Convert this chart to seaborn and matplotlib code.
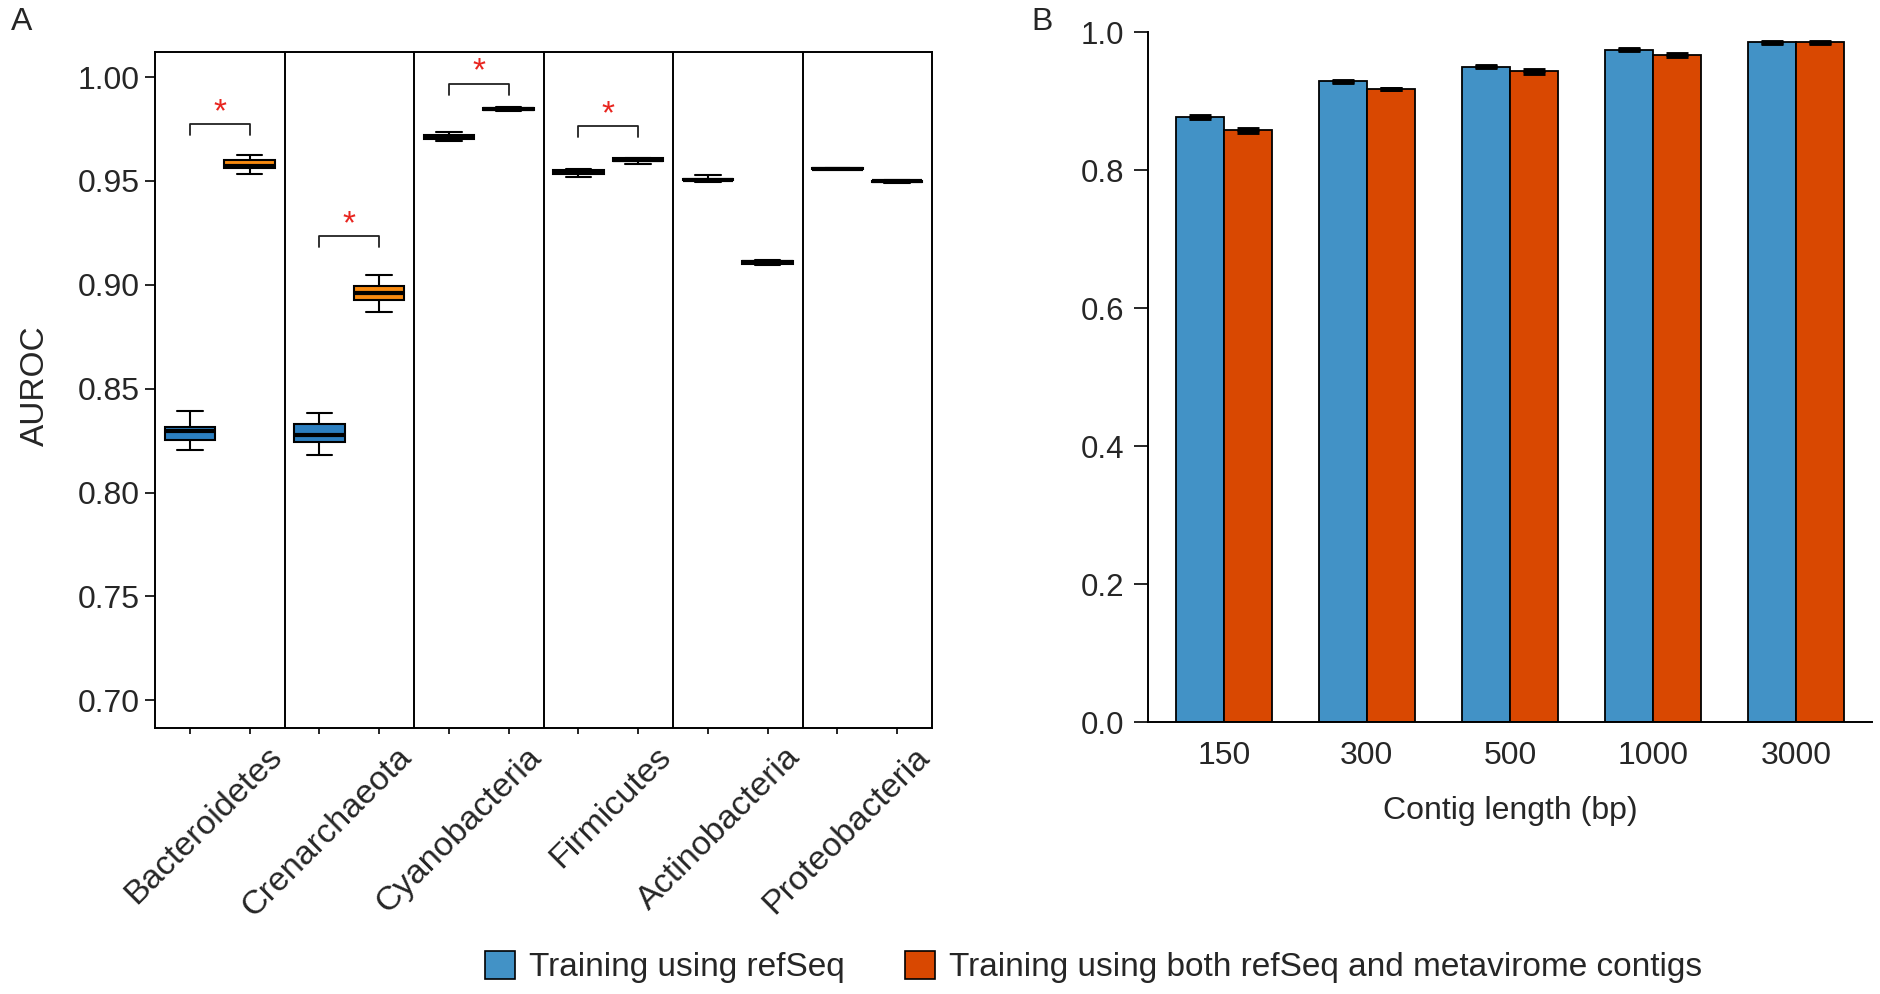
import numpy as np
import pandas as pd
import matplotlib
matplotlib.use('Agg')
import matplotlib.pyplot as plt
import matplotlib.transforms as mtransforms
from matplotlib.patches import Patch
import seaborn as sns

phyla = ['Bacteroidetes', 'Crenarchaeota', 'Cyanobacteria',
         'Firmicutes', 'Actinobacteria', 'Proteobacteria']
methods = ['Training using refSeq',
           'Training using both refSeq and metavirome contigs']

# [min, q1, median, q3, max]
auroc_refseq = [
    [0.8203, 0.8251, 0.8294, 0.8314, 0.8390],
    [0.8183, 0.8243, 0.8276, 0.8332, 0.8384],
    [0.9690, 0.9702, 0.9713, 0.9722, 0.9735],
    [0.9519, 0.9533, 0.9542, 0.9550, 0.9556],
    [0.9497, 0.9502, 0.9506, 0.9510, 0.9527],
    [0.9555, 0.9557, 0.9559, 0.9561, 0.9563],
]
auroc_both = [
    [0.9532, 0.9562, 0.9574, 0.9599, 0.9627],
    [0.8867, 0.8927, 0.8959, 0.8992, 0.9048],
    [0.9835, 0.9840, 0.9848, 0.9852, 0.9857],
    [0.9579, 0.9596, 0.9602, 0.9608, 0.9611],
    [0.9093, 0.9102, 0.9108, 0.9116, 0.9121],
    [0.9492, 0.9495, 0.9498, 0.9501, 0.9503],
]

sig_phyla = ['Bacteroidetes', 'Crenarchaeota', 'Cyanobacteria', 'Firmicutes']
sig_bracket_top = [0.9775, 0.9235, 0.9968, 0.9762]

# ---- panel B: AUROC vs contig length ----
contig_lengths = ['150', '300', '500', '1000', '3000']
len_auroc_refseq = [0.877, 0.9285, 0.950, 0.9744, 0.985]
len_auroc_both = [0.8575, 0.9174, 0.943, 0.9667, 0.985]
len_err_refseq = [0.0010, 0.0010, 0.0010, 0.0007, 0.0007]
len_err_both = [0.0018, 0.0007, 0.0020, 0.0020, 0.0007]

box_colors = ['#2C7FC0', '#F7890F']
bar_colors = ['#4292C6', '#D94801']
star_color = '#E8251F'

sns.set_theme(style='ticks')
plt.rcParams['font.family'] = ['Liberation Sans', 'DejaVu Sans']
plt.rcParams['axes.linewidth'] = 1.4

rows = []
for p, ref, both in zip(phyla, auroc_refseq, auroc_both):
    for v in ref:
        rows.append({'phylum': p, 'method': methods[0], 'auroc': v})
    for v in both:
        rows.append({'phylum': p, 'method': methods[1], 'auroc': v})
dfA = pd.DataFrame(rows)

rows = []
for L, a, b in zip(contig_lengths, len_auroc_refseq, len_auroc_both):
    rows.append({'length': L, 'method': methods[0], 'auroc': a})
    rows.append({'length': L, 'method': methods[1], 'auroc': b})
dfB = pd.DataFrame(rows)

fig = plt.figure(figsize=(18.81, 9.94), dpi=100)
axA = fig.add_axes([0.0824, 0.2679, 0.4131, 0.6795])
axB = fig.add_axes([0.6103, 0.2736, 0.3849, 0.6942])

# ---------------- panel A ----------------
sns.boxplot(data=dfA, x='phylum', y='auroc', hue='method', order=phyla,
            hue_order=methods, palette=box_colors, saturation=1,
            whis=(0, 100), width=0.92, gap=0.15, showfliers=False,
            linewidth=1.5, linecolor='black',
            medianprops=dict(linewidth=3, color='black'),
            legend=False, ax=axA)

for i in range(1, len(phyla)):
    axA.axvline(i - 0.5, color='black', lw=1.4)

off = 0.23
axA.set_xlim(-0.5, len(phyla) - 0.5)
axA.set_ylim(0.6868, 1.0119)
axA.set_yticks([0.70, 0.75, 0.80, 0.85, 0.90, 0.95, 1.00])
axA.set_yticklabels([f'{t:.2f}' for t in axA.get_yticks()], fontsize=23)
axA.set_xticks([i + s for i in range(len(phyla)) for s in (-off, off)])
axA.set_xticklabels([])
axA.tick_params(axis='y', length=7, width=1.4, pad=4)
axA.tick_params(axis='x', length=4.5, width=1.4)
axA.set_xlabel('')
axA.set_ylabel('')
for sp in axA.spines.values():
    sp.set_visible(True)
    sp.set_color('black')

trans = mtransforms.blended_transform_factory(axA.transData, axA.transAxes)
for i, p in enumerate(phyla):
    axA.text(i + 0.36, -0.02, p, transform=trans, rotation=45,
             ha='right', va='top', rotation_mode='anchor', fontsize=24.5)

for p, top in zip(sig_phyla, sig_bracket_top):
    i = phyla.index(p)
    x0, x1 = i - off, i + off
    axA.plot([x0, x0, x1, x1], [top - 0.0053, top, top, top - 0.0053],
             color='#222222', lw=1.3)
    axA.text(i, top + 0.0055, '*', color=star_color, ha='center',
             va='center', fontsize=24)

fig.text(35 / 1881, 0.6117, 'AUROC', rotation=90, ha='center', va='center',
         fontsize=24)

# ---------------- panel B ----------------
sns.barplot(data=dfB, x='length', y='auroc', hue='method', order=contig_lengths,
            hue_order=methods, palette=bar_colors, saturation=1, width=0.67,
            edgecolor='black', linewidth=1.3, errorbar=None, legend=False, ax=axB)

for cont, errs in zip(axB.containers, [len_err_refseq, len_err_both]):
    for bar, e in zip(cont, errs):
        xc = bar.get_x() + bar.get_width() / 2
        axB.errorbar(xc, bar.get_height(), yerr=e, fmt='none', ecolor='black',
                     elinewidth=2, capsize=8, capthick=3.5, zorder=5)

axB.set_xlim(-0.53, len(contig_lengths) - 0.47)
axB.set_ylim(0, 1.0)
axB.set_yticks([0.0, 0.2, 0.4, 0.6, 0.8, 1.0])
axB.set_yticklabels([f'{t:.1f}' for t in axB.get_yticks()], fontsize=22.5)
axB.tick_params(axis='y', length=10, width=1.4, pad=7)
axB.tick_params(axis='x', length=0, pad=14, labelsize=23)
axB.set_ylabel('')
axB.set_xlabel('Contig length (bp)', fontsize=23, labelpad=18)
sns.despine(ax=axB)
axB.spines['left'].set_bounds(0, 1.0)
axB.spines['left'].set_color('black')
axB.spines['bottom'].set_color('black')

# ---------------- shared legend & panel letters ----------------
handles = [Patch(facecolor=c, edgecolor='black', linewidth=1.2) for c in bar_colors]
fig.legend(handles, methods, loc='center', bbox_to_anchor=(0.5815, 0.027),
           ncol=2, frameon=False, fontsize=24, handlelength=0.9,
           handleheight=0.9, handletextpad=0.42, columnspacing=1.8)

fig.text(22 / 1881, 1 - 22 / 994, 'A', ha='center', va='center', fontsize=23)
fig.text(1042 / 1881, 1 - 22 / 994, 'B', ha='center', va='center', fontsize=23)

fig.savefig('out.png', dpi=100)
